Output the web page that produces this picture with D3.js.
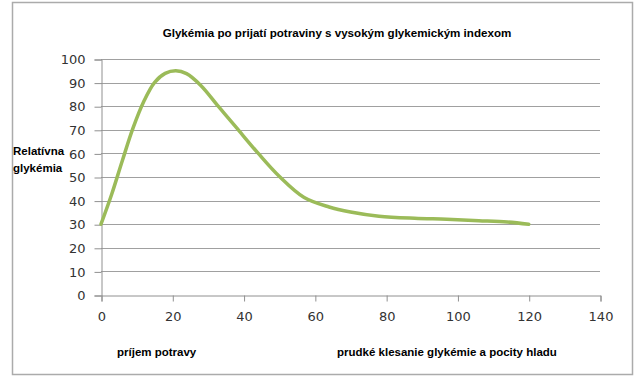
<!DOCTYPE html>
<html>
<head>
<meta charset="utf-8">
<script src="https://cdn.jsdelivr.net/npm/d3@7"></script>
<style>
  html, body { margin: 0; padding: 0; background: #fff; }
  svg { display: block; }
</style>
</head>
<body>
<script>
const titleText = "Glykémia po prijatí potraviny s vysokým glykemickým indexom";
const yLabelLines = ["Relatívna", "glykémia"];
const bottomLabels = ["príjem potravy", "prudké klesanie glykémie a pocity hladu"];
const xValues = [0, 3, 6, 9, 12, 15, 18, 21, 24, 28, 33, 38, 44, 50, 57, 64, 70, 78, 88, 97, 106, 114, 120];
const yValues = [30, 42.7, 57, 70.8, 82, 90, 93.9, 95, 93.8, 88.8, 79.8, 70.9, 60.2, 50.3, 41.3, 37.3, 35.2, 33.4, 32.5, 32.1, 31.5, 30.9, 30];
const xTicks = [0, 20, 40, 60, 80, 100, 120, 140];
const yTicks = [0, 10, 20, 30, 40, 50, 60, 70, 80, 90, 100];

const W = 640, H = 382;
const svg = d3.select("body").append("svg").attr("width", W).attr("height", H);

// outer border
svg.append("rect").attr("x", 12.5).attr("y", 2.5).attr("width", 620).attr("height", 372)
  .attr("fill", "none").attr("stroke", "#ababab").attr("stroke-width", 1.5);

const x = d3.scaleLinear().domain([0, 140]).range([101, 600]);
const y = d3.scaleLinear().domain([0, 100]).range([295, 59]);

// gridlines
svg.append("g").selectAll("line").data(yTicks.filter(d => d > 0)).join("line")
  .attr("x1", x(0)).attr("x2", x(140))
  .attr("y1", d => Math.round(y(d)) + 0.5).attr("y2", d => Math.round(y(d)) + 0.5)
  .attr("stroke", "#a0a0a0").attr("stroke-width", 1);

// y axis
const yAxis = d3.axisLeft(y).tickValues(yTicks).tickSize(7).tickPadding(9);
const gy = svg.append("g").attr("transform", `translate(${x(0) + 0.5},0.5)`).call(yAxis);
gy.select(".domain").attr("stroke", "#909090");
gy.selectAll(".tick line").attr("stroke", "#909090");
gy.selectAll("text").attr("font-family", "DejaVu Sans").attr("font-size", 13).attr("fill", "#333");

// x axis
const xAxis = d3.axisBottom(x).tickValues(xTicks).tickSize(6).tickPadding(10);
const gx = svg.append("g").attr("transform", `translate(0.5,${Math.round(y(0)) + 0.5})`).call(xAxis);
gx.select(".domain").attr("stroke", "#909090");
gx.selectAll(".tick line").attr("stroke", "#909090");
gx.selectAll("text").attr("font-family", "DejaVu Sans").attr("font-size", 13).attr("fill", "#333");

// curve
const pts = xValues.map((v, i) => [v, yValues[i]]);
const line = d3.line().x(d => x(d[0])).y(d => y(d[1])).curve(d3.curveCatmullRom.alpha(0.5));
svg.append("path").datum(pts).attr("d", line)
  .attr("fill", "none").attr("stroke", "#9bbb59").attr("stroke-width", 3.5)
  .attr("stroke-linecap", "round").attr("stroke-linejoin", "round");

const font = "Liberation Sans, Arial, sans-serif";
// title
svg.append("text").attr("x", 337).attr("y", 37).attr("text-anchor", "middle")
  .attr("font-family", font).attr("font-weight", "bold")
  .attr("font-size", 11.6).attr("fill", "#000").text(titleText);

// y label
svg.append("g").selectAll("text").data(yLabelLines).join("text")
  .attr("x", 13).attr("y", (d, i) => 155 + i * 17)
  .attr("font-family", font).attr("font-weight", "bold")
  .attr("font-size", 11.5).attr("fill", "#000").text(d => d);

// bottom labels
svg.append("text").attr("x", 117).attr("y", 356)
  .attr("font-family", font).attr("font-weight", "bold")
  .attr("font-size", 11.5).attr("fill", "#000").text(bottomLabels[0]);
svg.append("text").attr("x", 337).attr("y", 356)
  .attr("font-family", font).attr("font-weight", "bold")
  .attr("font-size", 11.5).attr("fill", "#000").text(bottomLabels[1]);
</script>
</body>
</html>
